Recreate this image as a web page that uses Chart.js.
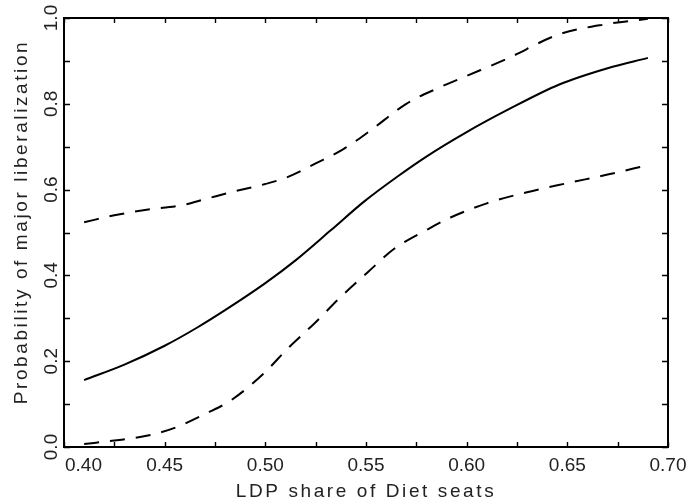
<!DOCTYPE html>
<html>
<head>
<meta charset="utf-8">
<script src="https://cdn.jsdelivr.net/npm/chart.js@4"></script>
<style>
  html, body { margin: 0; padding: 0; background: #fff; }
  #wrap { width: 688px; height: 504px; }
</style>
</head>
<body>
<div id="wrap"><canvas id="chart" width="688" height="504"></canvas></div>
<script>
// values (x = LDP share, y = probability)
const fitX   = [0.41, 0.43, 0.45, 0.466, 0.48, 0.50, 0.515, 0.5325, 0.549, 0.5655, 0.58, 0.60, 0.62, 0.646, 0.67, 0.69];
const fitY   = [0.156, 0.192, 0.236, 0.278, 0.319, 0.382, 0.435, 0.505, 0.572, 0.630, 0.677, 0.734, 0.785, 0.845, 0.883, 0.907];

const upperX = [0.41, 0.425, 0.441, 0.458, 0.471, 0.483, 0.50, 0.511, 0.525, 0.539, 0.552, 0.570, 0.585, 0.60, 0.62, 0.646, 0.67, 0.69];
const upperY = [0.524, 0.540, 0.553, 0.563, 0.579, 0.594, 0.613, 0.629, 0.661, 0.695, 0.737, 0.800, 0.835, 0.865, 0.905, 0.962, 0.986, 0.998];

const lowerX = [0.41, 0.425, 0.441, 0.4546, 0.471, 0.483, 0.50, 0.511, 0.525, 0.5375, 0.551, 0.564, 0.5805, 0.592, 0.61, 0.63, 0.65, 0.67, 0.69];
const lowerY = [0.007, 0.015, 0.026, 0.044, 0.079, 0.109, 0.175, 0.229, 0.291, 0.350, 0.408, 0.462, 0.507, 0.535, 0.568, 0.594, 0.615, 0.635, 0.657];

const xMajor = [0.40, 0.45, 0.50, 0.55, 0.60, 0.65, 0.70];
const xMinor = [0.425, 0.475, 0.525, 0.575, 0.625, 0.675];
const xTickLabels = ["0.40", "0.45", "0.50", "0.55", "0.60", "0.65", "0.70"];
const yMajor = [0.0, 0.2, 0.4, 0.6, 0.8, 1.0];
const yMinor = [0.1, 0.3, 0.5, 0.7, 0.9];
const yTickLabels = ["0.0", "0.2", "0.4", "0.6", "0.8", "1.0"];

const xTitle = "LDP share of Diet seats";
const yTitle = "Probability of major liberalization";

const pairs = (xs, ys) => xs.map((v, i) => ({ x: v, y: ys[i] }));

// frame, inward ticks on all four sides, tick labels and titles
const framePlugin = {
    id: "frame",
    afterDraw(chart) {
        const { ctx, chartArea: a, scales } = chart;
        const x = scales.x, y = scales.y;
        ctx.save();
        ctx.strokeStyle = "#000";
        ctx.lineWidth = 2;
        ctx.strokeRect(a.left, a.top, a.right - a.left, a.bottom - a.top);

        ctx.lineWidth = 1.4;
        ctx.beginPath();
        xMajor.concat(xMinor).forEach(v => {
            const px = Math.round(x.getPixelForValue(v)) + 0.5;
            ctx.moveTo(px, a.bottom); ctx.lineTo(px, a.bottom - 5);
            ctx.moveTo(px, a.top); ctx.lineTo(px, a.top + 5);
        });
        yMajor.concat(yMinor).forEach(v => {
            const py = Math.round(y.getPixelForValue(v)) + 0.5;
            ctx.moveTo(a.left, py); ctx.lineTo(a.left + 6, py);
            ctx.moveTo(a.right, py); ctx.lineTo(a.right - 6, py);
        });
        ctx.stroke();

        ctx.fillStyle = "#222";
        ctx.font = '19px "Liberation Sans"';
        ctx.textBaseline = "alphabetic";
        xMajor.forEach((v, i) => {
            const px = x.getPixelForValue(v);
            if (i === 0) {
                ctx.textAlign = "left";
                ctx.fillText(xTickLabels[i], px + 1, 471);
            } else {
                ctx.textAlign = "center";
                ctx.fillText(xTickLabels[i], px, 471);
            }
        });
        yMajor.forEach((v, i) => {
            const py = y.getPixelForValue(v);
            ctx.save();
            ctx.translate(57, py);
            ctx.rotate(-Math.PI / 2);
            ctx.textAlign = "center";
            ctx.fillText(yTickLabels[i], 0, 0);
            ctx.restore();
        });

        ctx.letterSpacing = "2.6px";
        ctx.textAlign = "center";
        ctx.fillText(xTitle, (a.left + a.right) / 2, 497);
        ctx.save();
        ctx.translate(27, 222);
        ctx.rotate(-Math.PI / 2);
        ctx.fillText(yTitle, 0, 0);
        ctx.restore();
        ctx.restore();
    }
};

const lineStyle = {
    borderColor: "#000",
    borderWidth: 2,
    pointRadius: 0,
    fill: false,
    cubicInterpolationMode: "monotone"
};

new Chart(document.getElementById("chart"), {
    type: "line",
    data: {
        datasets: [
            { ...lineStyle, label: "fit", data: pairs(fitX, fitY) },
            { ...lineStyle, label: "upper", data: pairs(upperX, upperY), borderDash: [15, 11] },
            { ...lineStyle, label: "lower", data: pairs(lowerX, lowerY), borderDash: [15, 11] }
        ]
    },
    options: {
        responsive: false,
        animation: false,
        layout: { padding: { left: 64, right: 20, top: 18, bottom: 57 } },
        plugins: { legend: { display: false }, tooltip: { enabled: false } },
        scales: {
            x: { type: "linear", min: 0.40, max: 0.70, display: false },
            y: { type: "linear", min: 0, max: 1, display: false }
        }
    },
    plugins: [framePlugin]
});
</script>
</body>
</html>
